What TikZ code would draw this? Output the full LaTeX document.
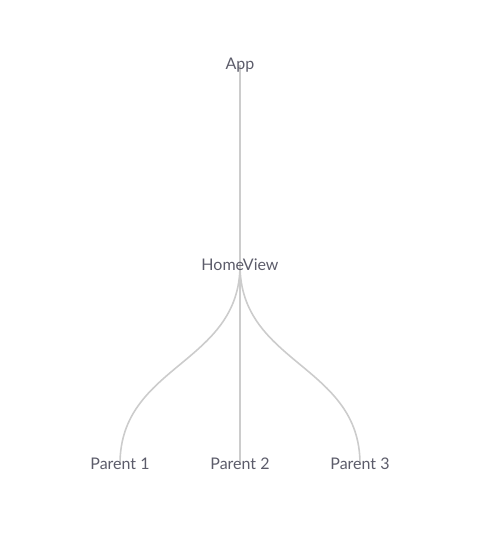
\documentclass[tikz,border=0pt]{standalone}
\usepackage{fontspec}
\setmainfont{Lato}
\usepackage{xcolor}
\usetikzlibrary{positioning, backgrounds, calc}
\definecolor{LinkGray}{RGB}{204,204,204}
\definecolor{LabelGray}{RGB}{92,92,106}

\begin{document}
\begin{tikzpicture}[x=0.75pt, y=-0.75pt, font=\fontsize{12}{14}\selectfont,
  label/.style={inner sep=0pt, text=LabelGray},
  link/.style={draw=LinkGray, line width=1.2pt}]
\useasboundingbox (0,0) rectangle (483,544);

% ---- nodes ----
\node[label] (app) at (240,65) {App};
\node[label] (home) at (240,265) {HomeView};
\foreach \i/\x in {1/120, 2/240, 3/360}{
  \node[label] (parent\i) at (\x,464) {Parent \i};
}

% ---- links ----
\begin{scope}[on background layer]
\draw[link] (app.center) -- (home.center);
\foreach \i in {1,2,3}{
  \draw[link] (home.center) .. controls ($(home.center)!0.5!(home.center |- parent\i.center)$)
    and ($(parent\i.center)!0.5!(parent\i.center |- home.center)$) .. (parent\i.center);
}
\end{scope}

\end{tikzpicture}
\end{document}
